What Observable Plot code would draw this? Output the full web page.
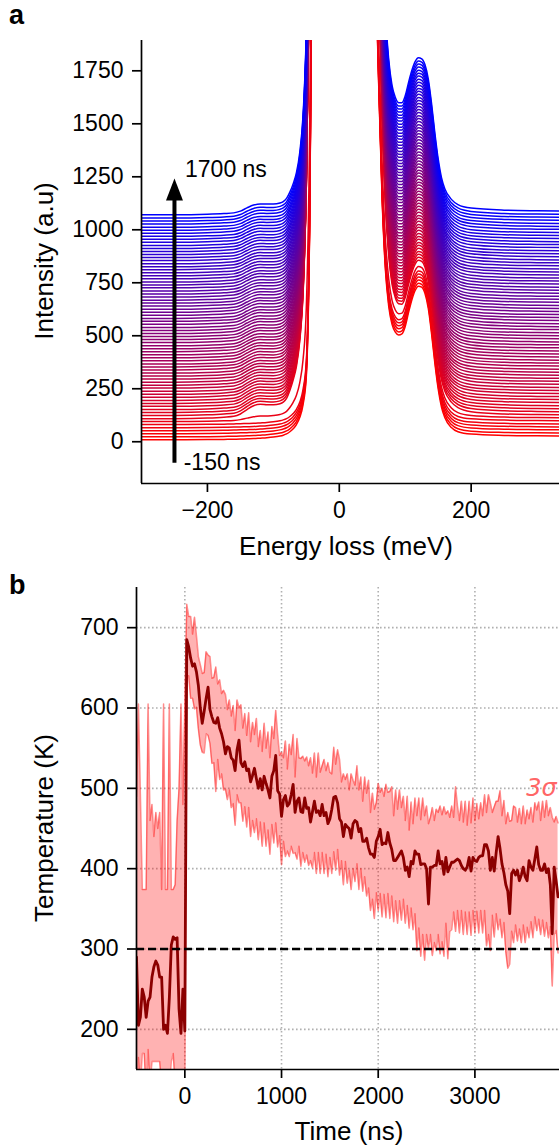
<!DOCTYPE html>
<html><head><meta charset="utf-8">
<script src="https://cdn.jsdelivr.net/npm/d3@7"></script>
<script src="https://cdn.jsdelivr.net/npm/@observablehq/plot@0.6"></script>
<style>
body{margin:0;background:#fff;}
#fig{position:relative;width:559px;height:1148px;overflow:hidden;font-family:"Liberation Sans",Arial,sans-serif;color:#000;}
#fig svg{position:absolute;left:0;}
.plabel{position:absolute;font-weight:bold;font-size:27px;line-height:27px;}
.xl{position:absolute;font-size:26px;line-height:26px;white-space:nowrap;transform:translate(-50%,-50%);}
.yl{position:absolute;font-size:26px;line-height:26px;white-space:nowrap;transform:translate(-50%,-50%) rotate(-90deg);}
</style></head><body>
<div id="fig">
  <div class="plabel" style="left:9px;top:2px">a</div>
  <div class="plabel" style="left:9px;top:572px">b</div>
  <div class="xl" style="left:346px;top:546px">Energy loss (meV)</div>
  <div class="yl" style="left:44px;top:261px">Intensity (a.u)</div>
  <div class="xl" style="left:349px;top:1131px">Time (ns)</div>
  <div class="yl" style="left:44px;top:828px">Temperature (K)</div>
</div>
<script>
// ---------- Panel a data ----------
const delayTimes = d3.range(-150, 1701, 25); // ns, one spectrum each (75)
const energies = [-300,-250,-200,-175,-160,-150,-140,-130,-120,-110,-100,-90,-85,-80,-75,-70,-65,-60,-55,-50,-45,-40,-35,-30,-15,0,15,30,40,50,55,58,60,65,70,75,80,85,90,95,100,105,110,115,120,125,130,135,140,145,150,155,160,170,180,200,250,300,334];
// cold spectrum (above left baseline)
const coldProfile = [0,0,1,2,3,4,5,6,8,10,13,18,22,28,38,52,72,105,165,300,1000,2800,5000,8000,20000,30000,20000,9000,5500,3500,2400,1880,1650,1130,800,630,545,508,495,500,535,600,660,705,725,720,690,620,500,360,240,155,105,58,38,27,21,19,18];
// extra signal of a heated spectrum
const hotExtra = [0,0,2,5,8,18,38,55,60,56,52,52,56,68,95,130,175,260,420,800,1200,1500,2000,2500,3000,3000,3000,2000,1500,900,620,480,420,300,210,140,90,62,47,40,36,32,28,24,22,22,24,28,32,34,32,28,25,20,14,6,1,0,0];
const baselineOffsets = [9,23,38,52,66,81,95,109,124,138,152,167,181,195,210,224,238,253,267,281,296,310,324,339,353,367,382,396,410,425,439,453,468,482,496,511,525,539,554,568,582,597,611,625,640,654,668,683,697,711,726,740,754,769,783,797,812,826,840,855,869,883,898,912,926,941,955,969,984,998,1012,1027,1041,1055,1071];
const hotWeight = [0,0,0,0,0,0,0.3,
 1.00,0.98,0.97,0.95,0.94,0.93,0.92,0.91,0.90,0.89,
 0.88,0.88,0.87,0.86,0.86,0.85,0.85,0.84,0.84,0.83,
 0.83,0.82,0.82,0.81,0.81,0.81,0.80,0.80,0.80,0.79,
 0.79,0.79,0.78,0.78,0.78,0.78,0.77,0.77,0.77,0.77,
 0.76,0.76,0.76,0.76,0.76,0.75,0.75,0.75,0.75,0.75,
 0.74,0.74,0.74,0.74,0.74,0.74,0.73,0.73,0.73,0.73,
 0.73,0.73,0.72,0.72,0.72,0.72,0.72,0.72];
const xTicksA = [-200, 0, 200];
const yTicksA = [0,250,500,750,1000,1250,1500,1750];
const arrowAnno = [{x: -250, y1: -102, y2: 1145, head: 1138}];
const arrowLabels = [{x: -234, y: 1284, text: "1700 ns"}, {x: -236, y: -100, text: "-150 ns"}];

// ---------- Panel b data ----------
const timeNs = d3.range(-500, 3861, 20);
const tempK = [
 290,205,215,250,240,215,235,240,265,278,285,280,265,265,200,205,195,240,305,315,312,314,225,195,250,198,
 685,676,662,652,655,645,628,600,581,596,
 612,626,598,589,582,581,588,575,568,558,
 543,552,550,538,535,522,548,560,532,527,
 533,522,524,508,516,525,512,500,512,498,
 515,506,498,488,515,522,541,497,493,465,
 486,491,478,481,492,505,470,484,488,471,
 470,488,475,476,458,471,484,470,472,466,
 480,466,470,456,462,474,489,490,482,462,
 458,440,455,452,450,438,456,460,458,446,
 450,434,434,438,426,418,418,414,434,440,
 449,430,432,431,445,432,424,410,410,414,
 418,422,414,398,402,390,409,406,422,418,
 418,405,406,406,400,356,402,402,404,404,
 422,406,409,393,414,396,402,408,408,410,
 412,410,404,400,398,402,414,397,414,410,
 409,414,416,416,430,430,422,398,414,397,
 420,440,425,406,395,380,372,344,394,398,
 392,398,385,392,402,390,385,410,402,398,
 412,427,405,398,398,406,395,400,380,319,
 402,385,365];
const sigmaUp = [
 200,400,278,124,134,159,370,220,215,162,185,170,205,109,405,169,179,365,69,59,68,146,275,410,230,407,
 44,38,52,40,58,45,36,54,62,48,
 58,40,66,48,56,70,42,60,50,64,
 74,46,60,52,68,50,62,40,72,48,
 60,44,70,50,66,42,75,52,60,48,
 66,44,72,50,62,40,56,70,48,80,
 52,68,46,74,50,62,44,78,50,66,
 70,46,64,52,80,48,60,44,72,54,
 48,70,52,76,58,44,62,40,66,74,
 50,78,56,66,48,80,54,44,70,52,
 64,50,80,56,84,52,76,60,48,66,
 46,70,58,74,50,64,78,56,88,60,
 80,54,76,62,88,58,74,50,66,48,
 70,56,82,60,78,100,62,74,56,70,
 48,72,58,84,54,76,62,70,56,92,
 66,50,80,58,86,52,70,60,74,50,
 72,48,66,50,62,40,70,84,56,80,
 64,44,72,60,90,76,98,115,66,80,
 84,60,90,64,76,66,88,52,74,60,
 70,46,78,62,86,58,90,66,96,145,
 56,80,92];
const sigmaDown = [
 160,40,85,80,70,95,60,110,105,118,125,120,105,135,80,85,75,110,145,145,182,184,105,75,120,68,
 45,36,50,40,56,44,54,46,36,52,
 44,60,42,58,50,85,52,64,50,60,
 44,66,52,62,54,68,56,78,50,68,
 56,70,48,68,56,80,50,64,54,70,
 58,78,50,70,60,90,84,70,52,60,
 52,76,56,66,64,86,50,72,60,68,
 50,80,58,72,48,70,64,76,52,72,
 60,72,52,66,48,80,68,92,58,70,
 48,60,46,70,52,64,56,76,52,72,
 50,62,44,72,50,70,56,76,64,92,
 80,90,64,92,76,94,58,76,50,82,
 58,86,52,66,48,64,58,82,78,120,
 92,114,88,120,82,56,84,110,96,106,
 104,112,100,102,82,108,80,84,62,88,
 64,90,56,82,52,84,68,80,66,90,
 62,94,68,96,82,126,104,100,72,82,
 76,116,88,92,62,84,96,63,72,90,
 62,88,60,84,72,82,58,96,68,84,
 72,104,68,80,62,90,62,86,52,65,
 84,62,70];
const xTicksB = [0,1000,2000,3000];
const yTicksB = [200,300,400,500,600,700];
const roomTemp = [300];
const sigmaLabel = [{t: 3530, T: 500, text: "3σ"}];

// ---------- build ----------
const font = "Liberation Sans, Arial, sans-serif";
const fmt = d => d < 0 ? "\u2212" + Math.abs(d) : String(d);
const fig = document.getElementById("fig");

const spectra = [];
delayTimes.forEach((t, i) => energies.forEach((e, j) => {
  spectra.push({t, e, v: baselineOffsets[i] + coldProfile[j] + hotWeight[i] * hotExtra[j]});
}));

const headSymbol = {draw(ctx) { ctx.moveTo(0, -22); ctx.lineTo(8.5, 0); ctx.lineTo(-8.5, 0); ctx.closePath(); }};

const plotA = Plot.plot({
  width: 559, height: 575,
  marginLeft: 141, marginRight: 0, marginTop: 40, marginBottom: 92,
  x: {domain: [-300, 334]},
  y: {domain: [-197, 1893]},
  color: {type: "linear", domain: [-150, 1700], range: ["red", "blue"], interpolate: "rgb"},
  style: {fontFamily: font, fontSize: "23px", background: "transparent", color: "black"},
  marks: [
    Plot.line(spectra, {x: "e", y: "v", z: "t", stroke: "t", strokeWidth: 1.5, curve: "monotone-x", clip: true}),
    Plot.ruleX(arrowAnno, {x: "x", y1: "y1", y2: "y2", stroke: "black", strokeWidth: 4}),
    Plot.dot(arrowAnno, {x: "x", y: "head", symbol: headSymbol, fill: "black", stroke: "none"}),
    Plot.text(arrowLabels, {x: "x", y: "y", text: "text", textAnchor: "start", fontSize: 23, fill: "black"}),
    Plot.ruleX([-300], {stroke: "black", strokeWidth: 1.7}),
    Plot.ruleY([-197], {stroke: "black", strokeWidth: 1.7}),
    Plot.axisX({ticks: xTicksA, tickFormat: fmt, tickSize: 9, tickPadding: 9, fontSize: 23, strokeWidth: 1.7, label: null}),
    Plot.axisY({ticks: yTicksA, tickFormat: fmt, tickSize: 9, tickPadding: 9, fontSize: 23, strokeWidth: 1.7, label: null})
  ]
});
plotA.style.top = "0px";
fig.appendChild(plotA);

const series = timeNs.map((t, i) => ({t, T: tempK[i], hi: tempK[i] + sigmaUp[i], lo: tempK[i] - sigmaDown[i]}));

const plotB = Plot.plot({
  width: 559, height: 573,
  marginLeft: 136, marginRight: 0, marginTop: 12, marginBottom: 79,
  x: {domain: [-500, 3875]},
  y: {domain: [150, 750]},
  style: {fontFamily: font, fontSize: "23px", background: "transparent", color: "black"},
  marks: [
    Plot.ruleX(xTicksB, {stroke: "#b0b0b0", strokeWidth: 1.6, strokeDasharray: "1.6,2.4"}),
    Plot.ruleY(yTicksB, {stroke: "#b0b0b0", strokeWidth: 1.6, strokeDasharray: "1.6,2.4"}),
    Plot.areaY(series, {x: "t", y1: "lo", y2: "hi", fill: "red", fillOpacity: 0.3, clip: true}),
    Plot.lineY(series, {x: "t", y: "hi", stroke: "red", strokeOpacity: 0.45, strokeWidth: 1.5, clip: true}),
    Plot.lineY(series, {x: "t", y: "lo", stroke: "red", strokeOpacity: 0.45, strokeWidth: 1.5, clip: true}),
    Plot.lineY(series, {x: "t", y: "T", stroke: "#8b0000", strokeWidth: 2.8, clip: true}),
    Plot.ruleY(roomTemp, {stroke: "black", strokeWidth: 2.4, strokeDasharray: "8,4"}),
    Plot.text(sigmaLabel, {x: "t", y: "T", text: "text", textAnchor: "start", fill: "#ff6666", fontSize: 24, fontStyle: "italic", fontFamily: "DejaVu Sans"}),
    Plot.ruleX([-500], {stroke: "black", strokeWidth: 1.7}),
    Plot.ruleY([150], {stroke: "black", strokeWidth: 1.7}),
    Plot.axisX({ticks: xTicksB, tickFormat: fmt, tickSize: 9, tickPadding: 9, fontSize: 23, strokeWidth: 1.7, label: null}),
    Plot.axisY({ticks: yTicksB, tickFormat: fmt, tickSize: 9, tickPadding: 9, fontSize: 23, strokeWidth: 1.7, label: null})
  ]
});
plotB.style.top = "575px";
fig.appendChild(plotB);
</script>
</body></html>
